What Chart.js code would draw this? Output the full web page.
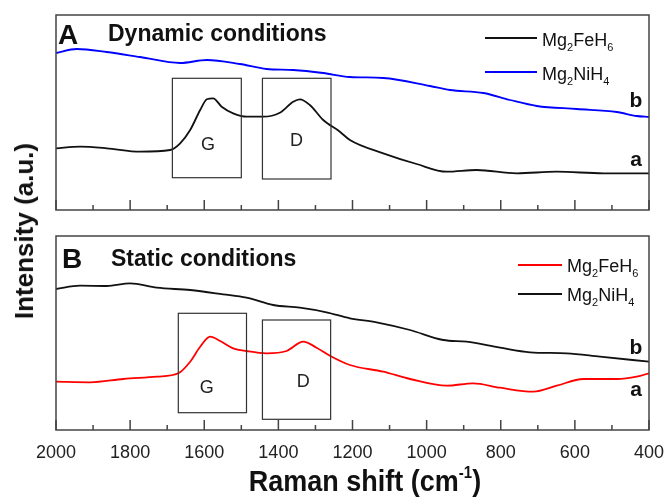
<!DOCTYPE html>
<html>
<head>
<meta charset="utf-8">
<script src="https://cdn.jsdelivr.net/npm/chart.js@4.4.1/dist/chart.umd.min.js"></script>
<style>
  body { margin: 0; background: #fff; }
  #wrap { position: relative; width: 667px; height: 497px; overflow: hidden;
          font-family: "Liberation Sans", Arial, sans-serif; color: #111; }
  canvas { position: absolute; left: 0; }
  .t { position: absolute; line-height: 1; white-space: nowrap; }
  .b { font-weight: bold; }
  .t sub { font-size: 11px; vertical-align: -5px; line-height: 0; }
  .sw { position: absolute; height: 2px; }
</style>
</head>
<body>
<div id="wrap">
  <canvas id="chartA" width="667" height="220" style="top:0"></canvas>
  <canvas id="chartB" width="667" height="277" style="top:220px"></canvas>

  <div class="t b" style="left:58px;top:21px;font-size:28px">A</div>
  <div class="t b" style="left:108px;top:22px;font-size:23px">Dynamic conditions</div>
  <div class="sw" style="left:485px;top:37px;width:52px;background:#111"></div>
  <div class="sw" style="left:485px;top:71px;width:52px;background:#0000ff"></div>
  <div class="t" style="left:542px;top:31px;font-size:18px">Mg<sub>2</sub>FeH<sub>6</sub></div>
  <div class="t" style="left:542px;top:65px;font-size:18px">Mg<sub>2</sub>NiH<sub>4</sub></div>

  <div class="t b" style="left:62px;top:245px;font-size:28px">B</div>
  <div class="t b" style="left:111px;top:247px;font-size:23px">Static conditions</div>
  <div class="sw" style="left:518px;top:264px;width:44px;background:#ff0000"></div>
  <div class="sw" style="left:518px;top:293px;width:44px;background:#111"></div>
  <div class="t" style="left:567px;top:257px;font-size:18px">Mg<sub>2</sub>FeH<sub>6</sub></div>
  <div class="t" style="left:567px;top:286px;font-size:18px">Mg<sub>2</sub>NiH<sub>4</sub></div>

  <div class="t b" style="left:24px;top:231px;font-size:26px;transform:translate(-50%,-50%) rotate(-90deg)">Intensity (a.u.)</div>
  <div class="t b" style="left:365px;top:468px;font-size:27px;transform:translateX(-50%) scaleY(1.08)">Raman shift (cm<span style="font-size:15px;vertical-align:12px;line-height:0">-1</span>)</div>
</div>

<script>
// x axis (Raman shift, cm-1), shown reversed
const xMin = 400;
const xMax = 2000;
const tickLabels = [2000, 1800, 1600, 1400, 1200, 1000, 800, 600, 400];

// panel A - dynamic conditions
const dynFeWn  = [2000, 1935, 1863, 1773, 1692, 1665, 1638, 1611, 1593, 1576, 1553, 1522, 1486, 1441, 1396, 1360, 1342, 1315, 1279, 1234, 1207, 1117, 1027, 946, 865, 757, 649, 523, 400];
const dynFeVal = [61.7, 63.3, 61.7, 58.3, 60, 66.7, 80, 100, 110.7, 111.7, 103.3, 96.7, 93.3, 93.3, 97.3, 108.3, 110.7, 105, 90, 78.3, 70, 56.7, 46, 38.3, 40, 36.7, 38.3, 36.7, 36.7];
const dynNiWn  = [2000, 1944, 1863, 1773, 1665, 1593, 1504, 1432, 1360, 1279, 1207, 1117, 991, 937, 847, 775, 703, 595, 487, 433, 400];
const dynNiVal = [157, 161, 158, 153, 147, 150, 146, 141, 140, 137, 133, 132, 124, 120, 117, 110, 104, 101, 98, 94, 93];

// panel B - static conditions
const statFeWn  = [2000, 1908, 1818, 1728, 1670, 1638, 1611, 1584, 1557, 1522, 1486, 1432, 1378, 1333, 1297, 1261, 1207, 1117, 1045, 946, 874, 802, 712, 649, 577, 487, 433, 400];
const statFeVal = [48.3, 47.7, 51, 53.3, 56.7, 68.3, 83.3, 93.3, 89, 81.7, 79, 76.7, 79, 88.3, 82.3, 74.3, 65, 58.3, 51, 44.3, 46.7, 42.3, 38.3, 44.3, 51, 51, 53.3, 56.7];
const statNiWn  = [2000, 1935, 1863, 1800, 1728, 1638, 1549, 1486, 1414, 1342, 1270, 1207, 1135, 1045, 955, 892, 802, 721, 622, 532, 400];
const statNiVal = [141, 144.3, 144, 146.7, 142.3, 140, 135.7, 132.3, 125, 122.3, 117.7, 111.7, 107.7, 100, 90, 88.3, 82.3, 77.7, 76.7, 73.3, 68.3];

// G / D band boxes (wavenumber range, intensity range, label position)
const dynBoxes = [
  { label: 'G', from: 1686, to: 1500, top: 131.7, bottom: 32.3, lx: 1590, ly: 65 },
  { label: 'D', from: 1443, to: 1258, top: 131.7, bottom: 31, lx: 1351, ly: 69 }
];
const statBoxes = [
  { label: 'G', from: 1670, to: 1486, top: 116.7, bottom: 17.3, lx: 1593, ly: 41.7 },
  { label: 'D', from: 1443, to: 1259, top: 110, bottom: 10.7, lx: 1333, ly: 48.3 }
];
const dynTags = [{ text: 'b', wn: 435, v: 108.3 }, { text: 'a', wn: 435, v: 50 }];
const statTags = [{ text: 'b', wn: 435, v: 81.7 }, { text: 'a', wn: 435, v: 40 }];

const FONT = '"Liberation Sans", Arial, sans-serif';

function pts(wn, val) {
  return wn.map((w, i) => ({ x: w, y: val[i] }));
}

// frame, inward ticks, band boxes and curve tags
const panelDecor = {
  id: 'panelDecor',
  afterDatasetsDraw(chart, args, opts) {
    const { ctx, chartArea: a, scales: { x, y } } = chart;
    ctx.save();
    ctx.strokeStyle = '#333';
    ctx.lineWidth = 1.2;
    ctx.fillStyle = '#222';
    ctx.font = '18px ' + FONT;
    ctx.textAlign = 'center';
    ctx.textBaseline = 'middle';
    opts.boxes.forEach(b => {
      const x1 = x.getPixelForValue(b.from), x2 = x.getPixelForValue(b.to);
      const y1 = y.getPixelForValue(b.top), y2 = y.getPixelForValue(b.bottom);
      ctx.strokeRect(x1, y1, x2 - x1, y2 - y1);
      ctx.fillText(b.label, x.getPixelForValue(b.lx), y.getPixelForValue(b.ly));
    });

    ctx.fillStyle = '#111';
    ctx.font = 'bold 21px ' + FONT;
    opts.tags.forEach(t => {
      ctx.fillText(t.text, x.getPixelForValue(t.wn), y.getPixelForValue(t.v));
    });

    ctx.strokeStyle = '#444';
    ctx.lineWidth = 1.5;
    ctx.strokeRect(a.left, a.top, a.right - a.left, a.bottom - a.top);
    ctx.beginPath();
    for (let v = xMin; v <= xMax; v += 100) {
      const px = x.getPixelForValue(v);
      const len = v % 200 === 0 ? 10 : 5;
      ctx.moveTo(px, a.bottom);
      ctx.lineTo(px, a.bottom - len);
    }
    ctx.stroke();
    ctx.restore();
  }
};

function line(data, color) {
  return {
    data: data,
    borderColor: color,
    borderWidth: 1.8,
    pointRadius: 0,
    cubicInterpolationMode: 'monotone',
    fill: false
  };
}

new Chart(document.getElementById('chartA'), {
  type: 'line',
  data: {
    datasets: [
      line(pts(dynFeWn, dynFeVal), '#111'),
      line(pts(dynNiWn, dynNiVal), '#0000ff')
    ]
  },
  options: {
    responsive: false,
    animation: false,
    devicePixelRatio: 1,
    layout: { autoPadding: false, padding: { left: 56, right: 18, top: 15, bottom: 10 } },
    scales: {
      x: { type: 'linear', min: xMin, max: xMax, reverse: true, display: false },
      y: { min: 0, max: 195, display: false }
    },
    plugins: {
      legend: { display: false },
      tooltip: { enabled: false },
      panelDecor: { boxes: dynBoxes, tags: dynTags }
    }
  },
  plugins: [panelDecor]
});

new Chart(document.getElementById('chartB'), {
  type: 'line',
  data: {
    datasets: [
      line(pts(statFeWn, statFeVal), '#ff0000'),
      line(pts(statNiWn, statNiVal), '#111')
    ]
  },
  options: {
    responsive: false,
    animation: false,
    devicePixelRatio: 1,
    layout: { autoPadding: false, padding: { left: 56, right: 18, top: 16, bottom: 0 } },
    scales: {
      x: {
        type: 'linear', min: xMin, max: xMax, reverse: true,
        grid: { display: false, drawTicks: false },
        border: { display: false },
        afterFit: s => {
          s.height = 67;
          s.paddingLeft = 0;
          s.paddingRight = 0;
        },
        afterBuildTicks: s => { s.ticks = tickLabels.map(v => ({ value: v })); },
        ticks: {
          color: '#222',
          font: { size: 18, family: FONT },
          padding: 12,
          maxRotation: 0,
          autoSkip: false,
          callback: v => String(v)
        }
      },
      y: { min: 0, max: 194, display: false }
    },
    plugins: {
      legend: { display: false },
      tooltip: { enabled: false },
      panelDecor: { boxes: statBoxes, tags: statTags }
    }
  },
  plugins: [panelDecor]
});
</script>
</body>
</html>
